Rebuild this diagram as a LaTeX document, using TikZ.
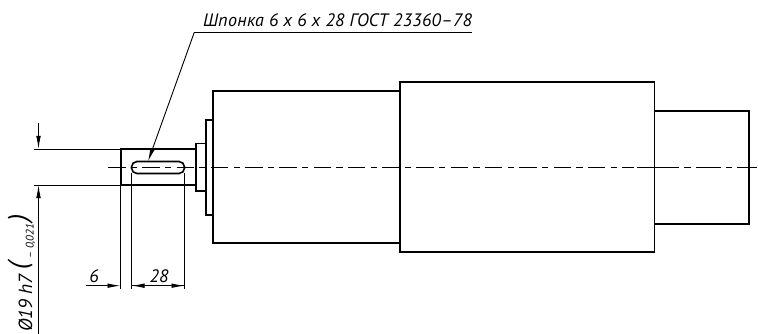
\documentclass[tikz,border=0pt]{standalone}
\usepackage{fontspec}
\setmainfont{PT Sans}
\usetikzlibrary{arrows.meta}
\tikzset{
  x=1pt,y=-1pt,
  contour/.style={line width=1.6pt,line join=miter,draw=black},
  thinline/.style={line width=0.9pt,draw=black},
  dimtip/.style={-{Latex[length=13pt,width=4.6pt]}},
  axisline/.style={line width=0.9pt,draw=black},
  label/.style={inner sep=0pt,font=\fontsize{18}{20}\selectfont\itshape,text=black},
}
\begin{document}
\begin{tikzpicture}
\useasboundingbox (0,0) rectangle (758,334);
% contour
\draw[contour] (121,149) rectangle (196,185);
\draw[contour] (196,143.5) rectangle (206,191);
\draw[contour] (206,120) rectangle (213,215);
\draw[contour] (213,91) rectangle (400,243);
\draw[contour] (400,82) rectangle (654.5,252);
\draw[contour] (654.5,111) rectangle (749,224);
\draw[contour,rounded corners=5.5pt] (131.5,161.5) rectangle (184.5,173.5);
% axis
\draw[axisline,dash pattern=on 17.5pt off 5.25pt on 6.25pt off 5.27pt] (108,167) -- (634,167);
\draw[axisline,dash pattern=on 42pt off 5pt on 7pt off 5pt on 25pt off 5pt on 6pt off 5pt on 25pt off 50pt] (637,167) -- (757,167);
% named points
\coordinate (shelfR) at (472,32.3);
\coordinate (shelfL) at (194.3,32.3);
\coordinate (keyTip) at (148,161.5);
\coordinate (vTopFree) at (38.5,123);
\coordinate (vTop) at (38.5,149);
\coordinate (vBot) at (38.5,185);
\coordinate (vEnd) at (38.5,334);
\coordinate (hFree) at (86,285.7);
\coordinate (hA) at (120.5,285.7);
\coordinate (hB) at (131.5,285.7);
\coordinate (hC) at (184.5,285.7);
% leader
\draw[thinline] (shelfR) -- (shelfL);
\draw[thinline,dimtip] (shelfL) -- (keyTip);
% extension lines
\draw[thinline] (34,149) -- (121,149);
\draw[thinline] (34,185) -- (121,185);
\draw[thinline] (120.5,185) -- (120.5,289);
\draw[thinline] (131.5,173.5) -- (131.5,289);
\draw[thinline] (184.5,173.5) -- (184.5,289);
% dimensions
\draw[thinline,dimtip] (vTopFree) -- (vTop);
\draw[thinline,dimtip] (vEnd) -- (vBot);
\draw[thinline,dimtip] (hFree) -- (hA);
\draw[thinline,dimtip] (hC) -- (hB);
\draw[thinline,dimtip] (hB) -- (hC);
% text
\node[label,anchor=base west] (keytext) at (203,26.5) {\addfontfeature{LetterSpace=1.5}Шпонка 6 x 6 x 28 ГОСТ 23360–78};
\node[label,anchor=base] (six) at (94,282) {6};
\node[label,anchor=base] (twentyeight) at (159,282) {28};
\node[label,anchor=base west,rotate=90,font=\fontsize{19}{20}\selectfont\itshape] (dia) at (32,332) {Ø19 h7};
\node[label,anchor=base,rotate=90,font=\fontsize{27}{28}\selectfont\itshape] (pl) at (27,266) {(};
\node[label,anchor=base west,rotate=90,font=\fontsize{11}{12}\selectfont\itshape] (tol) at (33.5,259) {– 0,021};
\node[label,anchor=base,rotate=90,font=\fontsize{27}{28}\selectfont\itshape] (pr) at (27,218) {)};
\end{tikzpicture}
\end{document}
